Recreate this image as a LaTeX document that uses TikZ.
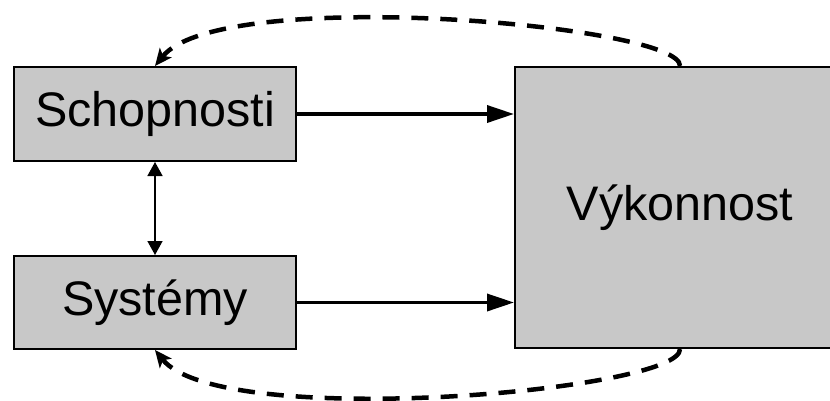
\documentclass[tikz,border=0pt]{standalone}
\usepackage{fontspec}
\setmainfont{Liberation Sans}
\usetikzlibrary{arrows.meta}
\definecolor{boxgray}{RGB}{200,200,200}
\begin{document}
\begin{tikzpicture}[x=1pt,y=-1pt,
  box/.style={draw=black, line width=2pt, fill=boxgray, inner sep=0pt,
    font=\fontsize{48.5}{56}\selectfont},
  flow/.style={line width=3.5pt, -{Triangle[length=27pt,width=17pt]}},
  link/.style={line width=1.5pt,
    {Triangle[length=14pt,width=15pt]}-{Triangle[length=14pt,width=15pt]}},
  feedback/.style={line width=4.5pt, dash pattern=on 17pt off 12pt,
    -{Stealth[length=17pt,width=15pt,inset=4pt]}}]
\useasboundingbox (0,0) rectangle (830,400);
\clip (0,0) rectangle (830,400);
\node[box, minimum width=282pt, minimum height=94pt] (S) at (155,114) {Schopnosti};
\node[box, minimum width=282pt, minimum height=93pt] (Y) at (155,302.5) {Systémy};
\node[box, minimum width=330pt, minimum height=281pt] (V) at (680,207.5) {Výkonnost};
\draw[flow] (S.east) -- (S.east -| V.west);
\draw[flow] (Y.east) -- (Y.east -| V.west);
\draw[link] (S.south) -- (Y.north);
\draw[feedback] (V.north) .. controls (682,25) and (220,-15) .. (S.north);
\draw[feedback] (V.south) .. controls (682,391) and (220,431) .. (Y.south);
\end{tikzpicture}
\end{document}
